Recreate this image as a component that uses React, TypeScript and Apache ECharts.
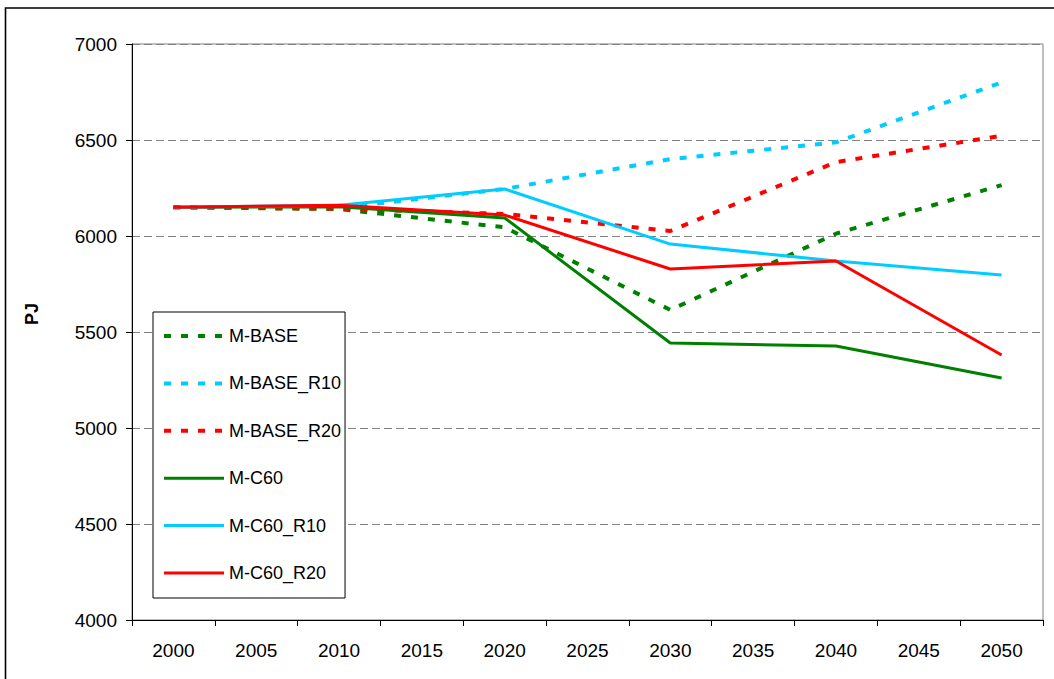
import React, { useEffect, useRef } from "react";
import * as echarts from "echarts";

const years = ["2000", "2005", "2010", "2015", "2020", "2025", "2030", "2035", "2040", "2045", "2050"];
const yTicks = { min: 4000, max: 7000, interval: 500 };

const mBase = [6150, null, 6140, null, 6045, null, 5615, null, 6012, null, 6265];
const mBaseR10 = [6150, null, 6146, null, 6245, null, 6400, null, 6488, null, 6800];
const mBaseR20 = [6150, null, 6142, null, 6115, null, 6026, null, 6385, null, 6522];
const mC60 = [6150, null, 6152, null, 6094, null, 5443, null, 5427, null, 5260];
const mC60R10 = [6150, null, 6160, null, 6245, null, 5958, null, 5870, null, 5797];
const mC60R20 = [6150, null, 6160, null, 6109, null, 5828, null, 5870, null, 5380];

const GREEN = "#008000";
const CYAN = "#00CCFF";
const RED = "#FF0000";
const FONT = "'Liberation Sans', Arial, sans-serif";

const seriesDefs = [
  { name: "M-BASE", data: mBase, color: GREEN, dashed: true },
  { name: "M-BASE_R10", data: mBaseR10, color: CYAN, dashed: true },
  { name: "M-BASE_R20", data: mBaseR20, color: RED, dashed: true },
  { name: "M-C60", data: mC60, color: GREEN, dashed: false },
  { name: "M-C60_R10", data: mC60R10, color: CYAN, dashed: false },
  { name: "M-C60_R20", data: mC60R20, color: RED, dashed: false },
];

export default function App() {
  const ref = useRef<HTMLDivElement>(null);
  useEffect(() => {
    document.body.style.margin = "0";
    const chart = echarts.init(ref.current!, null, { renderer: "svg" });
    chart.setOption({
      animation: false,
      backgroundColor: "#ffffff",
      textStyle: { fontFamily: FONT },
      grid: {
        left: 132,
        top: 44,
        width: 911,
        height: 576,
        show: true,
        borderColor: "#808080",
        borderWidth: 1,
        containLabel: false,
      },
      graphic: [
        {
          type: "rect",
          shape: { x: 5.5, y: 8, width: 1200, height: 800 },
          style: { fill: "none", stroke: "#000", lineWidth: 1.6 },
          silent: true,
          z: 0,
        },
        {
          type: "text",
          x: 32,
          y: 314,
          rotation: Math.PI / 2,
          style: {
            text: "PJ",
            font: `bold 18px ${FONT}`,
            fill: "#000",
            align: "center",
            verticalAlign: "middle",
          },
        },
      ],
      legend: {
        orient: "vertical",
        left: 153,
        top: 312,
        padding: [15, 4, 16, 9],
        itemWidth: 60,
        itemHeight: 18,
        itemGap: 29.4,
        borderColor: "#000",
        borderWidth: 1,
        backgroundColor: "#fff",
        itemStyle: { opacity: 0 },
        textStyle: { fontFamily: FONT, fontSize: 18, color: "#000", lineHeight: 18 },
        data: seriesDefs.map((s) => ({
          name: s.name,
          lineStyle: { width: s.dashed ? 4 : 3 },
        })),
      },
      xAxis: {
        type: "category",
        data: years,
        boundaryGap: true,
        axisLine: { lineStyle: { color: "#000", width: 1 } },
        axisTick: { show: true, length: 6, lineStyle: { color: "#000" }, inside: false },
        axisLabel: { color: "#000", fontSize: 19, fontFamily: FONT, margin: 21 },
        splitLine: { show: false },
      },
      yAxis: {
        type: "value",
        min: yTicks.min,
        max: yTicks.max,
        interval: yTicks.interval,
        axisLine: { show: true, lineStyle: { color: "#000", width: 1 } },
        axisTick: { show: true, length: 6, lineStyle: { color: "#000" } },
        axisLabel: {
          color: "#000",
          fontSize: 19,
          fontFamily: FONT,
          margin: 15,
          formatter: (v: number) => String(v),
        },
        splitLine: { show: true, lineStyle: { color: "#808080", type: [8, 4], width: 1 } },
      },
      series: seriesDefs.map((s) => ({
        name: s.name,
        type: "line",
        data: s.data,
        connectNulls: true,
        showSymbol: false,
        symbol: "none",
        color: s.color,
        lineStyle: s.dashed
          ? { color: s.color, width: 4, type: [7, 10], cap: "butt" }
          : { color: s.color, width: 3, type: "solid" },
        emphasis: { disabled: true },
      })),
    });
    return () => chart.dispose();
  }, []);
  return <div ref={ref} style={{ width: 1054, height: 679 }} />;
}
